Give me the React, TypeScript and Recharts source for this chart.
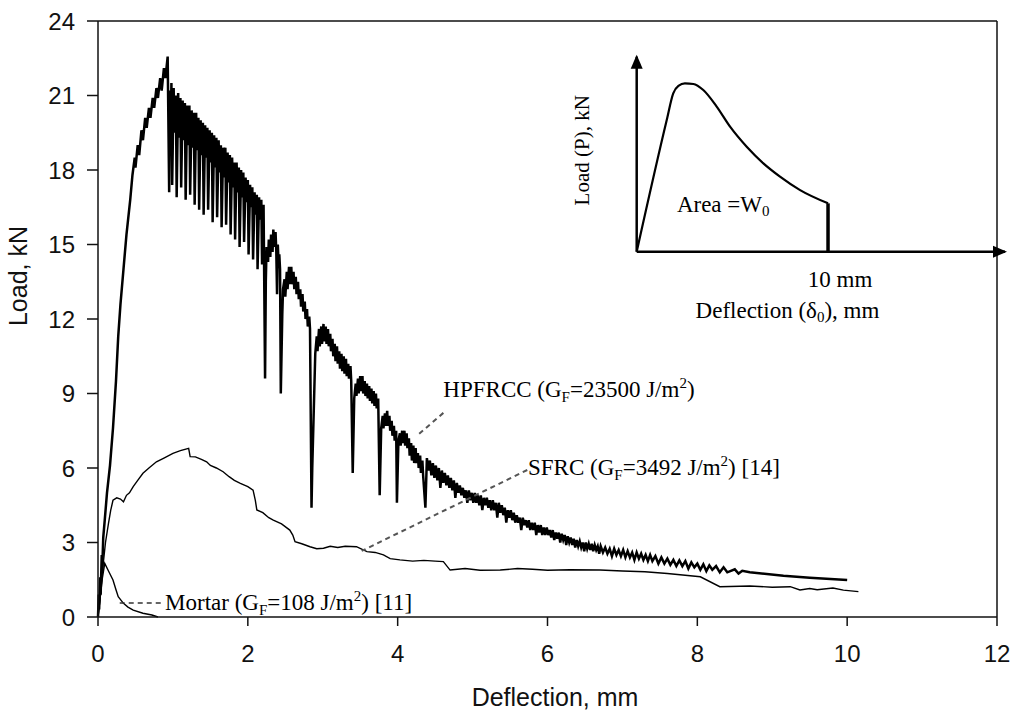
import React from 'react';
import { LineChart, Line, XAxis, YAxis, ReferenceLine, ReferenceDot } from 'recharts';

const SANS = '"Liberation Sans", Arial, sans-serif';
const SERIF = '"Liberation Serif", "Times New Roman", serif';

const xTicks = [0, 2, 4, 6, 8, 10, 12];
const yTicks = [0, 3, 6, 9, 12, 15, 18, 21, 24];

// HPFRCC load-deflection (mm, kN)
const hpfrcc: [number, number][] = [
  [0, 0], [0.01, 0.9], [0.015, 0.3], [0.03, 1.6], [0.035, 0.9], [0.05, 2.5], [0.055, 1.8], [0.07, 3.2],
  [0.09, 3.9], [0.12, 5.0], [0.16, 6.1], [0.2, 7.6], [0.24, 9.5], [0.27, 11.3], [0.3, 12.6], [0.34, 14.0],
  [0.38, 15.4], [0.43, 16.8], [0.46, 17.8], [0.49, 18.5], [0.5, 18.1], [0.53, 19.0], [0.55, 18.6],
  [0.58, 19.6], [0.6, 19.2], [0.63, 20.1], [0.65, 19.7], [0.68, 20.5], [0.7, 20.1], [0.73, 20.9],
  [0.75, 20.5], [0.78, 21.3], [0.8, 20.9], [0.83, 21.7], [0.85, 21.2], [0.88, 22.1], [0.9, 21.7],
  [0.93, 22.57],
  [0.95, 17.1], [0.96, 21.2], [0.97, 19.4], [0.98, 21.5], [0.99, 17.4], [1.01, 21.3], [1.02, 19.5],
  [1.04, 21.0], [1.05, 16.9], [1.07, 21.1], [1.08, 19.3], [1.1, 20.9], [1.11, 17.3], [1.13, 20.8],
  [1.14, 19.2], [1.16, 20.7], [1.17, 16.8], [1.19, 20.6], [1.2, 19.0], [1.22, 20.6], [1.23, 17.0],
  [1.25, 20.4], [1.26, 18.9], [1.28, 20.3], [1.29, 16.6], [1.31, 20.3], [1.32, 18.8], [1.34, 20.1],
  [1.35, 16.4], [1.37, 20.0], [1.38, 18.6], [1.4, 19.9], [1.41, 16.2], [1.43, 19.8], [1.44, 18.5],
  [1.46, 19.7], [1.47, 16.4], [1.49, 19.6], [1.5, 18.3], [1.52, 19.5], [1.53, 15.9], [1.55, 19.4],
  [1.56, 18.1], [1.58, 19.3], [1.59, 16.1], [1.61, 19.2], [1.62, 17.9], [1.64, 19.0], [1.65, 15.7],
  [1.67, 18.9], [1.68, 17.7], [1.7, 18.9], [1.71, 15.8], [1.73, 18.7], [1.74, 17.5], [1.76, 18.6],
  [1.77, 15.4], [1.79, 18.5], [1.8, 17.3], [1.82, 18.3], [1.83, 15.2], [1.85, 18.3], [1.86, 17.1],
  [1.88, 18.1], [1.89, 14.9], [1.91, 18.0], [1.92, 16.9], [1.94, 17.9], [1.95, 15.1], [1.97, 17.7],
  [1.98, 16.7], [2.0, 17.6], [2.01, 14.6], [2.03, 17.4], [2.04, 16.5], [2.06, 17.3], [2.07, 14.4],
  [2.09, 17.1], [2.1, 16.2], [2.12, 17.0], [2.13, 14.0], [2.15, 16.9], [2.16, 16.0], [2.18, 16.8],
  [2.19, 14.2], [2.21, 16.6], [2.23, 9.6],
  [2.24, 13.5], [2.25, 14.9], [2.27, 14.3], [2.28, 15.2], [2.3, 14.5], [2.31, 15.4], [2.33, 14.7],
  [2.34, 15.6], [2.36, 14.9], [2.37, 15.5], [2.38, 14.7], [2.39, 13.0], [2.4, 15.0], [2.41, 14.3],
  [2.42, 14.6], [2.43, 14.0], [2.44, 9.0],
  [2.46, 12.2], [2.47, 13.2], [2.49, 13.6], [2.5, 12.9], [2.52, 13.9], [2.53, 13.2], [2.55, 14.1],
  [2.56, 13.4], [2.58, 14.1], [2.59, 13.4], [2.61, 13.9], [2.62, 13.2], [2.64, 13.7], [2.65, 13.0],
  [2.67, 13.5], [2.68, 12.8], [2.7, 13.2], [2.71, 12.5], [2.73, 13.0], [2.74, 12.3], [2.76, 12.7],
  [2.77, 12.0], [2.79, 12.4], [2.8, 11.7], [2.82, 12.1], [2.83, 11.6], [2.85, 4.4],
  [2.86, 6.0], [2.9, 10.6], [2.92, 11.3], [2.93, 10.7], [2.95, 11.6], [2.96, 10.9], [2.98, 11.7],
  [2.99, 11.0], [3.01, 11.8], [3.02, 11.1], [3.04, 11.7], [3.05, 11.0], [3.07, 11.6], [3.08, 10.9],
  [3.1, 11.4], [3.11, 10.7], [3.13, 11.2], [3.14, 10.5], [3.16, 11.0], [3.17, 10.3], [3.19, 10.9],
  [3.2, 10.2], [3.22, 10.7], [3.23, 10.0], [3.25, 10.6], [3.26, 9.9], [3.28, 10.5], [3.29, 9.8],
  [3.31, 10.4], [3.32, 9.7], [3.34, 10.2], [3.35, 9.6], [3.37, 10.1], [3.38, 9.5], [3.4, 5.8],
  [3.42, 8.8], [3.44, 9.4], [3.45, 8.9], [3.47, 9.6], [3.48, 9.0], [3.5, 9.7], [3.51, 9.1], [3.53, 9.7],
  [3.54, 9.0], [3.56, 9.5], [3.57, 8.9], [3.59, 9.4], [3.6, 8.8], [3.62, 9.3], [3.63, 8.7], [3.65, 9.2],
  [3.66, 8.6], [3.68, 9.1], [3.69, 8.5], [3.71, 9.0], [3.72, 8.4], [3.74, 8.8], [3.76, 4.9],
  [3.78, 7.6], [3.8, 8.1], [3.81, 7.6], [3.83, 8.2], [3.84, 7.7], [3.86, 8.3], [3.87, 7.7], [3.89, 8.1],
  [3.9, 7.5], [3.92, 7.9], [3.93, 7.3], [3.95, 7.7], [3.96, 7.1], [3.98, 7.5], [3.99, 4.6],
  [4.01, 7.1], [4.03, 7.4], [4.04, 6.9], [4.06, 7.5], [4.07, 7.0], [4.09, 7.5], [4.1, 6.9], [4.12, 7.4],
  [4.13, 6.8], [4.15, 7.2], [4.16, 6.5], [4.18, 7.0], [4.19, 6.3], [4.21, 6.9], [4.22, 6.2], [4.24, 6.8],
  [4.25, 6.2], [4.27, 6.6], [4.28, 6.0], [4.3, 6.5], [4.31, 5.8], [4.33, 6.3], [4.34, 5.7], [4.37, 4.4],
  [4.39, 6.4], [4.41, 5.9], [4.43, 6.3], [4.45, 5.7], [4.47, 6.2], [4.49, 5.6], [4.51, 6.1], [4.53, 5.5],
  [4.55, 6.0], [4.57, 5.2], [4.59, 5.9], [4.61, 5.4], [4.63, 5.8], [4.65, 5.3], [4.67, 5.7], [4.69, 5.2],
  [4.71, 5.6], [4.73, 5.1], [4.75, 5.5], [4.77, 4.8], [4.79, 5.4], [4.81, 5.0], [4.83, 5.3], [4.85, 4.9],
  [4.87, 5.2], [4.89, 4.8], [4.91, 5.1], [4.93, 4.6], [4.95, 5.1], [4.97, 4.7], [4.99, 5.0], [5.01, 4.6],
  [5.03, 5.0], [5.05, 4.6], [5.07, 4.9], [5.09, 4.5], [5.11, 4.9], [5.13, 4.3], [5.15, 4.8], [5.17, 4.5],
  [5.19, 4.8], [5.21, 4.4], [5.23, 4.7], [5.25, 4.3], [5.27, 4.7], [5.29, 4.3], [5.31, 4.6], [5.33, 4.0],
  [5.35, 4.6], [5.37, 4.2], [5.39, 4.5], [5.41, 4.1], [5.43, 4.4], [5.45, 3.8], [5.47, 4.3], [5.49, 4.0],
  [5.51, 4.3], [5.53, 3.9], [5.55, 4.2], [5.57, 3.8], [5.59, 4.1], [5.61, 3.8], [5.63, 4.0], [5.65, 3.5],
  [5.67, 4.0], [5.69, 3.7], [5.71, 3.9], [5.73, 3.6], [5.75, 3.9], [5.77, 3.5], [5.79, 3.8], [5.81, 3.5],
  [5.83, 3.8], [5.85, 3.3], [5.87, 3.7], [5.89, 3.4], [5.91, 3.7], [5.93, 3.3], [5.95, 3.6], [5.97, 3.3],
  [5.99, 3.6], [6.01, 3.3], [6.03, 3.5], [6.05, 3.2], [6.07, 3.5], [6.09, 3.1], [6.11, 3.4], [6.13, 3.15],
  [6.15, 3.4], [6.17, 3.0], [6.19, 3.35], [6.21, 3.1], [6.23, 3.3], [6.25, 2.9], [6.27, 3.25], [6.29, 3.0],
  [6.31, 3.2], [6.33, 2.9], [6.35, 3.15], [6.37, 2.8], [6.39, 3.1], [6.41, 2.85], [6.43, 3.05],
  [6.45, 2.8], [6.47, 3.0], [6.49, 2.65], [6.51, 3.0], [6.53, 2.75], [6.55, 2.95], [6.57, 2.7],
  [6.59, 2.95], [6.61, 2.65], [6.63, 2.9], [6.65, 2.7], [6.67, 2.85], [6.69, 2.55], [6.71, 2.85],
  [6.74, 2.6], [6.77, 2.8], [6.8, 2.55], [6.83, 2.75], [6.86, 2.45], [6.89, 2.75], [6.92, 2.5],
  [6.95, 2.7], [6.98, 2.45], [7.01, 2.7], [7.04, 2.4], [7.07, 2.65], [7.1, 2.4], [7.13, 2.6],
  [7.16, 2.3], [7.19, 2.6], [7.22, 2.35], [7.25, 2.55], [7.28, 2.3], [7.31, 2.5], [7.34, 2.25],
  [7.37, 2.5], [7.4, 2.25], [7.44, 2.45], [7.48, 2.15], [7.52, 2.4], [7.56, 2.15], [7.6, 2.35],
  [7.64, 2.1], [7.68, 2.3], [7.72, 2.05], [7.76, 2.28], [7.8, 2.05], [7.84, 2.25], [7.88, 1.95],
  [7.92, 2.2], [7.96, 2.0], [8.0, 2.15], [8.04, 1.9], [8.08, 2.12], [8.12, 1.85], [8.16, 2.08],
  [8.2, 1.9], [8.25, 2.05], [8.3, 1.8], [8.35, 2.0], [8.4, 1.8], [8.5, 1.92], [8.55, 1.75],
  [8.6, 1.86], [8.7, 1.8], [9.15, 1.66], [9.5, 1.58], [10.0, 1.49],
];

// SFRC load-deflection (mm, kN)
const sfrc: [number, number][] = [
  [0, 0], [0.03, 0.8], [0.05, 1.5], [0.07, 2.16], [0.1, 3.0], [0.14, 3.77], [0.17, 4.3], [0.2, 4.7],
  [0.25, 4.8], [0.3, 4.75], [0.34, 4.64], [0.38, 4.9], [0.42, 5.0], [0.47, 5.25], [0.53, 5.5],
  [0.6, 5.79], [0.68, 6.0], [0.78, 6.25], [0.88, 6.4], [1.0, 6.59], [1.1, 6.7], [1.21, 6.79],
  [1.23, 6.46], [1.3, 6.45], [1.38, 6.35], [1.45, 6.25], [1.5, 6.1], [1.58, 6.0], [1.67, 5.85],
  [1.75, 5.65], [1.82, 5.5], [1.9, 5.38], [2.0, 5.25], [2.07, 5.11], [2.1, 4.7], [2.12, 4.31],
  [2.2, 4.2], [2.28, 4.0], [2.34, 3.9], [2.45, 3.75], [2.56, 3.5], [2.6, 3.3], [2.63, 3.03],
  [2.72, 2.95], [2.83, 2.83], [2.92, 2.75], [3.01, 2.77], [3.1, 2.85], [3.2, 2.8], [3.3, 2.85],
  [3.45, 2.83], [3.59, 2.63], [3.7, 2.6], [3.81, 2.5], [3.9, 2.35], [4.03, 2.3], [4.2, 2.25],
  [4.35, 2.28], [4.5, 2.25], [4.61, 2.23], [4.7, 1.89], [4.9, 1.95], [5.1, 1.88], [5.37, 1.89],
  [5.6, 1.95], [5.8, 1.92], [6.0, 1.88], [6.3, 1.9], [6.7, 1.89], [7.0, 1.85], [7.3, 1.82],
  [7.6, 1.75], [8.04, 1.62], [8.3, 1.22], [8.7, 1.25], [9.0, 1.2], [9.24, 1.22], [9.37, 1.09],
  [9.5, 1.15], [9.6, 1.1], [9.81, 1.17], [9.95, 1.08], [10.15, 1.02],
];

// Mortar load-deflection (mm, kN)
const mortar: [number, number][] = [
  [0, 0], [0.03, 0.8], [0.06, 1.6], [0.09, 2.16], [0.14, 1.85], [0.2, 1.49], [0.24, 1.1], [0.27, 0.82],
  [0.34, 0.55], [0.4, 0.4], [0.47, 0.28], [0.6, 0.15], [0.72, 0.08], [0.8, 0.0],
];

// Inset schematic curve (arbitrary units, 10 = 10 mm)
const insetCurve: [number, number][] = [
  [0, 0], [1.57, 6.75], [1.91, 8.12], [2.18, 8.5], [2.52, 8.63], [2.96, 8.6], [3.48, 8.29],
  [4.18, 7.44], [4.88, 6.41], [5.75, 5.38], [6.62, 4.53], [7.49, 3.85], [8.54, 3.16], [10, 2.48],
];
const insetEndX = 10;
const insetEndY = 2.48;
const insetXMax = 19.25;
const insetYMax = 10;

const toPts = (a: [number, number][]) => a.map(([x, y]) => ({ x, y }));

const HpText = ({ cx, cy }: any) => (
  <text x={cx} y={cy} fontFamily={SERIF} fontSize={23} fill="#000">
    HPFRCC (G<tspan fontSize={15} dy={5}>F</tspan><tspan dy={-5}>=23500  J/m</tspan>
    <tspan fontSize={15} dy={-9}>2</tspan><tspan dy={9}>)</tspan>
  </text>
);
const SfText = ({ cx, cy }: any) => (
  <text x={cx} y={cy} fontFamily={SERIF} fontSize={23} fill="#000">
    SFRC (G<tspan fontSize={15} dy={5}>F</tspan><tspan dy={-5}>=3492 J/m</tspan>
    <tspan fontSize={15} dy={-9}>2</tspan><tspan dy={9}>) [14]</tspan>
  </text>
);
const MoText = ({ cx, cy }: any) => (
  <text x={cx} y={cy} fontFamily={SERIF} fontSize={23} fill="#000">
    Mortar (G<tspan fontSize={15} dy={5}>F</tspan><tspan dy={-5}>=108  J/m</tspan>
    <tspan fontSize={15} dy={-9}>2</tspan><tspan dy={9}>) [11]</tspan>
  </text>
);

const XTitle = () => (
  <text x={555} y={706} textAnchor="middle" fontFamily={SANS} fontSize={25} fill="#111">
    Deflection, mm
  </text>
);
const YTitle = () => (
  <text x={27} y={276} textAnchor="middle" transform="rotate(-90 27 276)" fontFamily={SANS} fontSize={25} fill="#111">
    Load, kN
  </text>
);

const axisStyle = { stroke: '#111', strokeWidth: 1.5 };
const tickStyle = { fill: '#111', fontSize: 24, fontFamily: SANS };

export default function App() {
  return (
    <div style={{ position: 'absolute', left: 0, top: 0, width: 1010, height: 711, background: '#fff' }}>
      <div style={{ position: 'absolute', left: 0, top: 0 }}>
        <LineChart width={1010} height={711} margin={{ top: 21, right: 13, bottom: 0, left: 0 }}>
          <XAxis
            type="number"
            dataKey="x"
            domain={[0, 12]}
            ticks={xTicks}
            height={94}
            tickSize={9}
            tickMargin={19}
            axisLine={axisStyle}
            tickLine={axisStyle}
            tick={tickStyle}
            label={<XTitle />}
          />
          <YAxis
            type="number"
            dataKey="y"
            domain={[0, 24]}
            ticks={yTicks}
            width={98}
            tickSize={11}
            tickMargin={12}
            axisLine={axisStyle}
            tickLine={axisStyle}
            tick={tickStyle}
            label={<YTitle />}
          />
          <ReferenceLine y={24} stroke="#111" strokeWidth={1.5} />
          <ReferenceLine x={12} stroke="#111" strokeWidth={1.5} />
          <Line data={toPts(mortar)} dataKey="y" type="linear" stroke="#000" strokeWidth={1.4} dot={false} isAnimationActive={false} />
          <Line data={toPts(sfrc)} dataKey="y" type="linear" stroke="#000" strokeWidth={1.4} dot={false} isAnimationActive={false} />
          <Line data={toPts(hpfrcc)} dataKey="y" type="linear" stroke="#000" strokeWidth={2.5} dot={false} isAnimationActive={false} />
          <ReferenceLine segment={[{ x: 4.61, y: 8.22 }, { x: 4.27, y: 7.33 }]} stroke="#555" strokeWidth={2} strokeDasharray="5 4" />
          <ReferenceLine segment={[{ x: 5.73, y: 5.92 }, { x: 3.52, y: 2.66 }]} stroke="#555" strokeWidth={2} strokeDasharray="5 4" />
          <ReferenceLine segment={[{ x: 0.29, y: 0.56 }, { x: 0.87, y: 0.56 }]} stroke="#333" strokeWidth={1.5} strokeDasharray="5 4" />
          <ReferenceDot x={4.61} y={8.86} r={0} ifOverflow="visible" shape={(p: any) => <HpText cx={p.cx} cy={p.cy} />} />
          <ReferenceDot x={5.74} y={5.72} r={0} ifOverflow="visible" shape={(p: any) => <SfText cx={p.cx} cy={p.cy} />} />
          <ReferenceDot x={0.895} y={0.28} r={0} ifOverflow="visible" shape={(p: any) => <MoText cx={p.cx} cy={p.cy} />} />
        </LineChart>
      </div>
      <div style={{ position: 'absolute', left: 560, top: 40 }}>
        <LineChart width={450} height={300} margin={{ top: 16.7, right: 5, bottom: 88.3, left: 76.7 }}>
          <XAxis type="number" dataKey="x" domain={[0, insetXMax]} hide />
          <YAxis type="number" dataKey="y" domain={[0, insetYMax]} hide />
          <ReferenceLine segment={[{ x: 0, y: 0 }, { x: insetXMax, y: 0 }]} stroke="#000" strokeWidth={2.5} />
          <ReferenceLine segment={[{ x: 0, y: 0 }, { x: 0, y: insetYMax }]} stroke="#000" strokeWidth={2.5} />
          <ReferenceLine segment={[{ x: insetEndX, y: 0 }, { x: insetEndX, y: insetEndY }]} stroke="#000" strokeWidth={3.5} />
          <Line data={toPts(insetCurve)} dataKey="y" type="monotone" stroke="#000" strokeWidth={2.2} dot={false} isAnimationActive={false} />
          <ReferenceDot x={insetXMax} y={0} r={0} ifOverflow="visible"
            shape={(p: any) => <polygon points={`${p.cx + 2},${p.cy} ${p.cx - 12},${p.cy - 6} ${p.cx - 12},${p.cy + 6}`} fill="#000" />} />
          <ReferenceDot x={0} y={insetYMax} r={0} ifOverflow="visible"
            shape={(p: any) => <polygon points={`${p.cx},${p.cy - 2} ${p.cx - 6},${p.cy + 12} ${p.cx + 6},${p.cy + 12}`} fill="#000" />} />
          <ReferenceDot x={2.1} y={2.04} r={0} ifOverflow="visible"
            shape={(p: any) => (
              <text x={p.cx} y={p.cy} fontFamily={SERIF} fontSize={23} fill="#000">
                Area =W<tspan fontSize={15} dy={4}>0</tspan>
              </text>
            )} />
          <ReferenceDot x={10.63} y={-1.8} r={0} ifOverflow="visible"
            shape={(p: any) => (
              <text x={p.cx} y={p.cy} textAnchor="middle" fontFamily={SERIF} fontSize={23} fill="#000">10 mm</text>
            )} />
          <ReferenceDot x={7.88} y={-3.42} r={0} ifOverflow="visible"
            shape={(p: any) => (
              <text x={p.cx} y={p.cy} textAnchor="middle" fontFamily={SERIF} fontSize={23} fill="#000">
                Deflection (δ<tspan fontSize={15} dy={4}>0</tspan><tspan dy={-4}>), mm</tspan>
              </text>
            )} />
          <ReferenceDot x={-2.49} y={5.2} r={0} ifOverflow="visible"
            shape={(p: any) => (
              <text x={p.cx} y={p.cy} textAnchor="middle" transform={`rotate(-90 ${p.cx} ${p.cy})`} fontFamily={SERIF} fontSize={21} fill="#000">
                Load (P), kN
              </text>
            )} />
        </LineChart>
      </div>
    </div>
  );
}
